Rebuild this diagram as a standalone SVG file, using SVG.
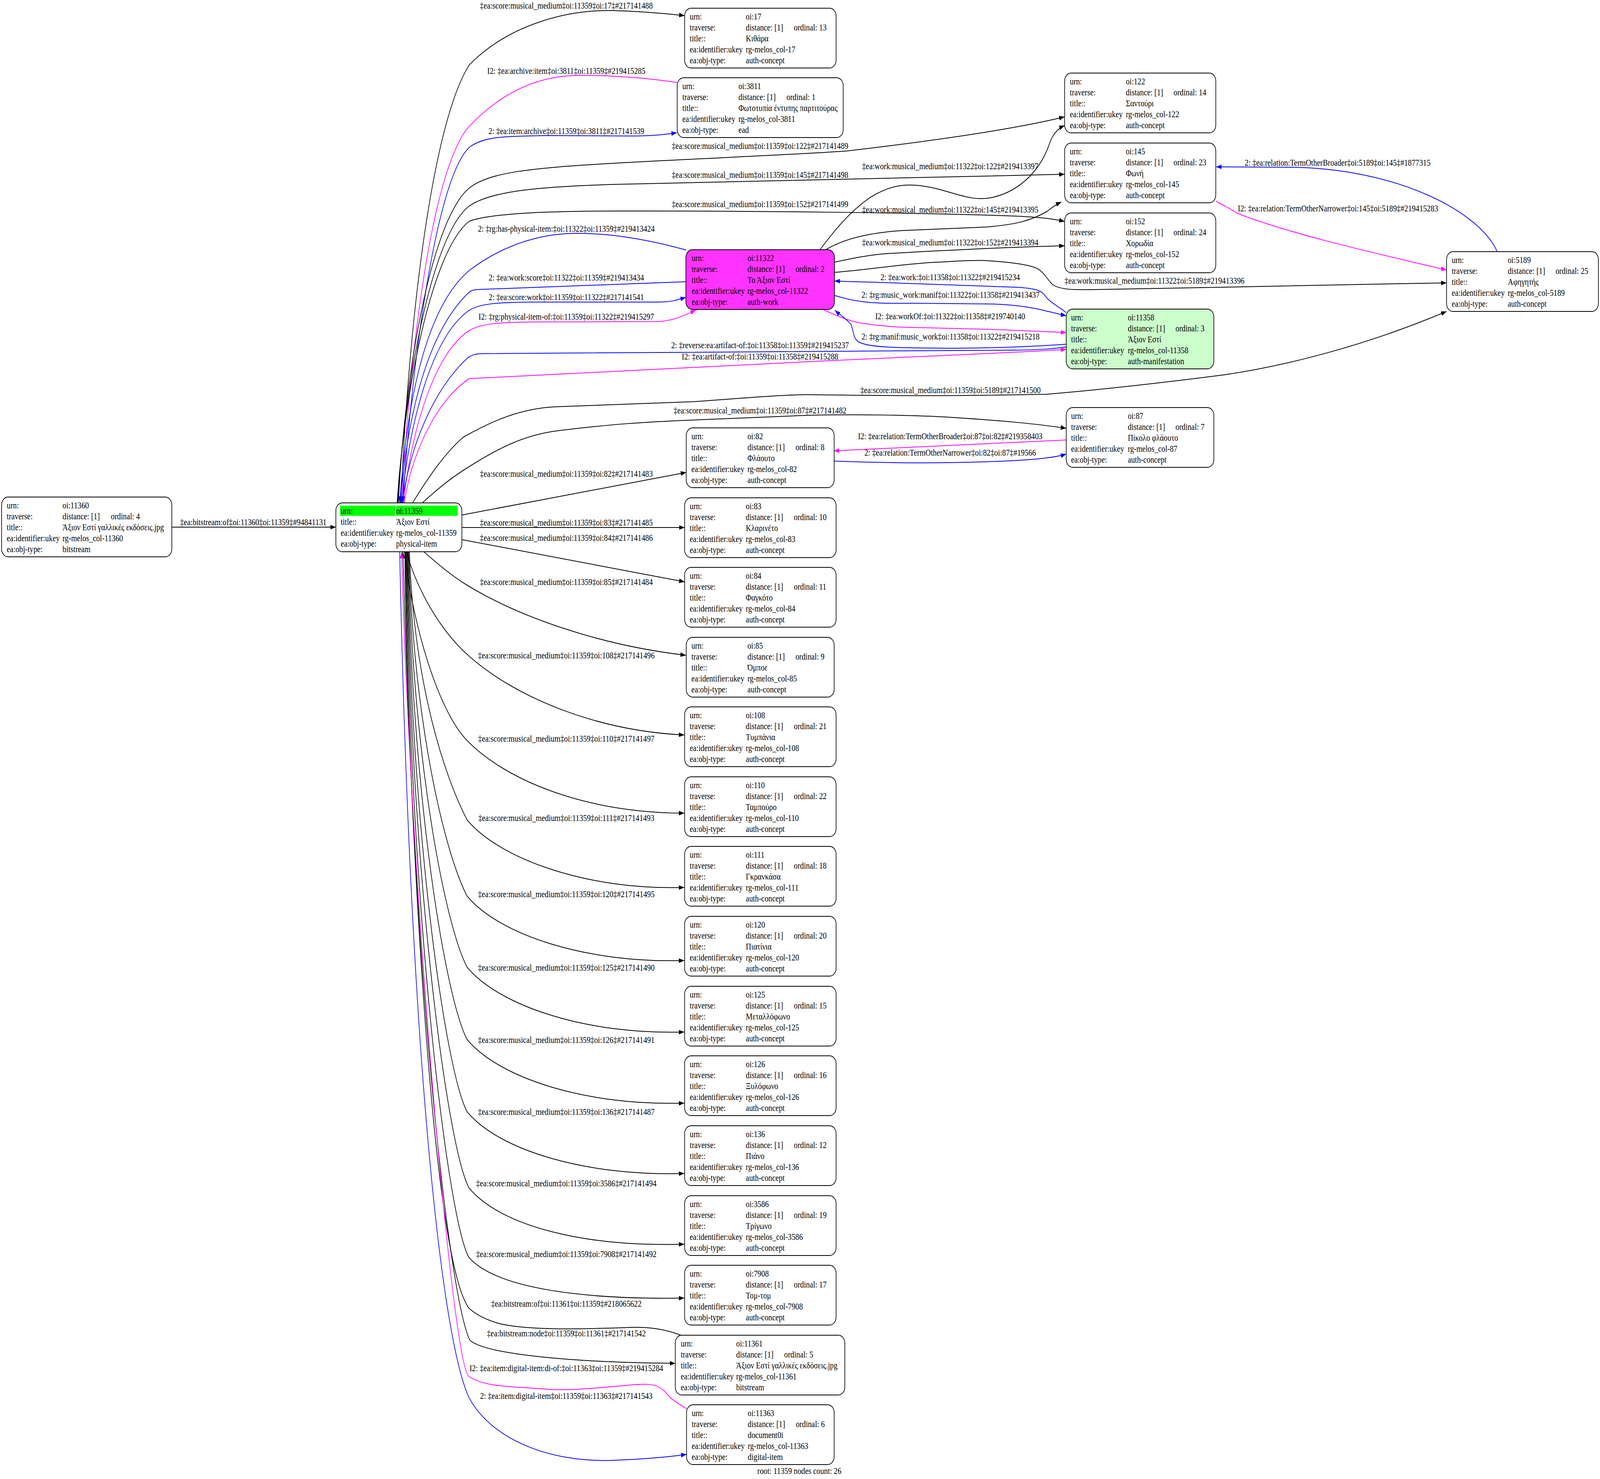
<svg xmlns="http://www.w3.org/2000/svg" width="4964" height="3785" viewBox="0 0 4964 3785" preserveAspectRatio="none" style="width:100%;height:100%">
<style>
text { font-family: "Liberation Serif", "Times New Roman", serif; font-size: 23.3px; fill: #000; }
.lbl { text-anchor: middle; }
.box { fill: #fff; stroke: #000; stroke-width: 2; }
.e { fill: none; stroke-width: 2; }
.k { stroke: #000; marker-end: url(#ak); }
.b { stroke: #0000ff; marker-end: url(#ab); }
.m { stroke: #ff00ff; marker-end: url(#am); }
</style>
<defs>
<marker id="ak" viewBox="0 0 10 7" refX="10" refY="3.5" markerWidth="17" markerHeight="12" markerUnits="userSpaceOnUse" orient="auto"><path d="M0,0 L10,3.5 L0,7 z" fill="#000"/></marker>
<marker id="ab" viewBox="0 0 10 7" refX="10" refY="3.5" markerWidth="17" markerHeight="12" markerUnits="userSpaceOnUse" orient="auto"><path d="M0,0 L10,3.5 L0,7 z" fill="#0000ff"/></marker>
<marker id="am" viewBox="0 0 10 7" refX="10" refY="3.5" markerWidth="17" markerHeight="12" markerUnits="userSpaceOnUse" orient="auto"><path d="M0,0 L10,3.5 L0,7 z" fill="#ff00ff"/></marker>
</defs>
<rect x="0" y="0" width="4964" height="3785" fill="#fff"/>

<g id="edges">
<path class="e k" d="M533,1349 L1042,1349"/>
<text class="lbl" x="786" y="1344">‡ea:bitstream:of‡oi:11360‡oi:11359‡#94841131</text>

<path class="e k" d="M1244,1287 C1262,900 1330,330 1456,166 C1580,62 1760,25 1900,27 C1990,29 2060,34 2124,40"/>
<text class="lbl" x="1757" y="22">‡ea:score:musical_medium‡oi:11359‡oi:17‡#217141488</text>

<path class="e m" d="M2101,211 C2000,199 1900,192 1790,193 C1650,195 1540,250 1456,323 C1340,430 1270,900 1247,1287"/>
<text class="lbl" x="1757" y="189">I2: ‡ea:archive:item‡oi:3811‡oi:11359‡#219415285</text>

<path class="e b" d="M1250,1287 C1275,950 1350,460 1456,377 C1500,350 1560,348 1700,347 L1950,348 C2030,348 2060,344 2100,340"/>
<text class="lbl" x="1757" y="343">2: ‡ea:item:archive‡oi:11359‡oi:3811‡#217141539</text>

<path class="e k" d="M1236,1287 C1255,950 1340,560 1456,481 C1520,440 1650,430 1900,418 C2100,408 2500,395 2631,386 C2900,360 3150,330 3303,299"/>
<text class="lbl" x="2358" y="381">‡ea:score:musical_medium‡oi:11359‡oi:122‡#217141489</text>

<path class="e k" d="M1234,1287 C1255,980 1340,600 1456,527 C1530,485 1700,478 1900,472 C2200,465 2400,461 2600,459 C2900,455 3100,450 3303,446"/>
<text class="lbl" x="2358" y="455">‡ea:score:musical_medium‡oi:11359‡oi:145‡#217141498</text>

<path class="e k" d="M1232,1287 C1255,1000 1340,640 1456,566 C1530,545 1700,541 1900,540 C2300,539 2900,545 3150,553 C3230,556 3270,560 3303,567"/>
<text class="lbl" x="2358" y="530">‡ea:score:musical_medium‡oi:11359‡oi:152‡#217141499</text>

<path class="e b" d="M2129,640 C2020,615 1900,597 1788,597 C1650,598 1540,640 1456,692 C1330,780 1265,1000 1240,1287"/>
<text class="lbl" x="1757" y="593">2: ‡rg:has-physical-item:‡oi:11322‡oi:11359‡#219413424</text>

<path class="e b" d="M2128,721 L1480,741 C1465,742 1458,745 1450,752 C1330,850 1265,1050 1242,1287"/>
<text class="lbl" x="1757" y="718">2: ‡ea:work:score‡oi:11322‡oi:11359‡#219413434</text>

<path class="e b" d="M1246,1287 C1270,1080 1340,860 1456,794 C1490,776 1550,774 1650,773 L2050,773 C2080,773 2100,768 2128,761"/>
<text class="lbl" x="1757" y="768">2: ‡ea:score:work‡oi:11359‡oi:11322‡#217141541</text>

<path class="e m" d="M1252,1287 C1275,1100 1350,900 1456,846 C1490,828 1550,825 1650,824 L2040,823 C2080,822 2120,810 2159,793"/>
<text class="lbl" x="1757" y="818">I2: ‡rg:physical-item-of:‡oi:11359‡oi:11322‡#219415297</text>

<path class="e b" d="M3308,888 C3270,892 3240,895 3150,896 L1500,905 C1475,905 1465,908 1452,915 C1340,1000 1270,1150 1248,1287"/>
<text class="lbl" x="2358" y="891">2: ‡reverse:ea:artifact-of:‡oi:11358‡oi:11359‡#219415237</text>

<path class="e m" d="M1254,1287 C1280,1150 1360,1020 1456,969 L2500,926 C2900,910 3150,903 3308,894"/>
<text class="lbl" x="2358" y="920">I2: ‡ea:artifact-of:‡oi:11359‡oi:11358‡#219415288</text>

<path class="e k" d="M1280,1287 C1330,1220 1380,1160 1437,1119 C1530,1075 1620,1045 1724,1041 C1900,1035 2050,1030 2150,1028 C2300,1020 2400,1011 2500,1010 C2700,1012 2900,1015 3246,1009 C3450,995 3650,975 3800,959 C4000,935 4250,880 4488,797"/>
<text class="lbl" x="2949" y="1006">‡ea:score:musical_medium‡oi:11359‡oi:5189‡#217141500</text>

<path class="e k" d="M1310,1287 C1360,1250 1400,1222 1456,1194 C1540,1150 1620,1115 1724,1103 C1900,1085 2000,1080 2150,1075 L2500,1063 C2650,1060 2832,1062 2950,1068 C3100,1076 3200,1083 3308,1096"/>
<text class="lbl" x="2358" y="1058">‡ea:score:musical_medium‡oi:11359‡oi:87‡#217141482</text>

<path class="e k" d="M1433,1318 L2129,1209"/>
<text class="lbl" x="1757" y="1220">‡ea:score:musical_medium‡oi:11359‡oi:82‡#217141483</text>

<path class="e k" d="M1433,1350 L2124,1350"/>
<text class="lbl" x="1757" y="1345">‡ea:score:musical_medium‡oi:11359‡oi:83‡#217141485</text>

<path class="e k" d="M1433,1381 L2124,1489"/>
<text class="lbl" x="1757" y="1384">‡ea:score:musical_medium‡oi:11359‡oi:84‡#217141486</text>

<path class="e k" d="M1315,1412 C1360,1445 1400,1472 1442,1494 C1600,1575 1850,1650 2128,1677"/>
<text class="lbl" x="1757" y="1497">‡ea:score:musical_medium‡oi:11359‡oi:85‡#217141484</text>

<path class="e k" d="M1261,1412 C1290,1500 1360,1610 1455,1679 C1600,1785 1850,1870 2123,1881"/>
<text class="lbl" x="1757" y="1685">‡ea:score:musical_medium‡oi:11359‡oi:108‡#217141496</text>

<path class="e k" d="M1255,1412 C1280,1600 1360,1820 1449,1895 C1560,1990 1800,2080 2123,2081"/>
<text class="lbl" x="1757" y="1898">‡ea:score:musical_medium‡oi:11359‡oi:110‡#217141497</text>

<path class="e k" d="M1270,1412 C1285,1755 1380,1988 1449,2098 C1549,2198 1823,2279 2123,2271"/>
<text class="lbl" x="1757" y="2101">‡ea:score:musical_medium‡oi:11359‡oi:111‡#217141493</text>

<path class="e k" d="M1268,1412 C1283,1852 1380,2183 1449,2293 C1549,2393 1823,2466 2123,2458"/>
<text class="lbl" x="1757" y="2296">‡ea:score:musical_medium‡oi:11359‡oi:120‡#217141495</text>

<path class="e k" d="M1266,1412 C1281,1943 1380,2365 1449,2475 C1549,2575 1823,2649 2123,2641"/>
<text class="lbl" x="1757" y="2484">‡ea:score:musical_medium‡oi:11359‡oi:125‡#217141490</text>

<path class="e k" d="M1264,1412 C1279,2036 1380,2550 1449,2660 C1549,2760 1823,2831 2123,2823"/>
<text class="lbl" x="1757" y="2669">‡ea:score:musical_medium‡oi:11359‡oi:126‡#217141491</text>

<path class="e k" d="M1262,1412 C1277,2128 1380,2735 1449,2845 C1549,2945 1823,3011 2123,3003"/>
<text class="lbl" x="1757" y="2853">‡ea:score:musical_medium‡oi:11359‡oi:136‡#217141487</text>

<path class="e k" d="M1260,1412 C1275,2226 1385,2930 1455,3040 C1555,3140 1823,3192 2123,3184"/>
<text class="lbl" x="1757" y="3036">‡ea:score:musical_medium‡oi:11359‡oi:3586‡#217141494</text>

<path class="e k" d="M1258,1412 C1273,2314 1385,3107 1454,3217 C1540,3300 1823,3326 2123,3322"/>
<text class="lbl" x="1757" y="3217">‡ea:score:musical_medium‡oi:11359‡oi:7908‡#217141492</text>

<path class="e k" d="M2112,3417 C2060,3400 2010,3396 1954,3397 C1800,3402 1620,3405 1540,3385 C1500,3375 1470,3360 1454,3347 C1330,3200 1270,2000 1250,1412"/>
<text class="lbl" x="1757" y="3344">‡ea:bitstream:of‡oi:11361‡oi:11359‡#218065622</text>

<path class="e k" d="M1256,1412 C1271,2402 1390,3320 1458,3430 C1510,3468 1800,3487 2095,3489"/>
<text class="lbl" x="1757" y="3420">‡ea:bitstream:node‡oi:11359‡oi:11361‡#217141542</text>

<path class="e m" d="M2130,3605 C2100,3590 2080,3580 2068,3566 C2040,3535 1990,3542 1936,3546 C1850,3552 1760,3560 1695,3555 C1590,3548 1500,3550 1454,3522 C1400,3480 1270,2200 1246,1412"/>
<text class="lbl" x="1757" y="3509">I2: ‡ea:item:digital-item:di-of:‡oi:11363‡oi:11359‡#219415284</text>

<path class="e b" d="M1240,1412 C1270,2600 1360,3400 1454,3575 C1520,3680 1700,3745 1909,3737 C2000,3734 2080,3728 2130,3722"/>
<text class="lbl" x="1757" y="3580">2: ‡ea:item:digital-item‡oi:11359‡oi:11363‡#217141543</text>

<path class="e k" d="M2544,639 C2580,600 2630,545 2700,505 C2760,475 2800,472 2840,474 C2940,480 3000,520 3080,505 C3170,488 3230,430 3255,370 C3265,345 3280,330 3303,321"/>
<text class="lbl" x="2948" y="433">‡ea:work:musical_medium‡oi:11322‡oi:122‡#219413397</text>

<path class="e k" d="M2562,639 C2620,610 2700,595 2800,590 L3059,581 C3150,575 3200,565 3250,540 C3265,530 3280,522 3293,517"/>
<text class="lbl" x="2948" y="544">‡ea:work:musical_medium‡oi:11322‡oi:145‡#219413395</text>

<path class="e k" d="M2589,671 C2650,660 2700,652 2753,649 C2900,642 3100,633 3303,629"/>
<text class="lbl" x="2948" y="628">‡ea:work:musical_medium‡oi:11322‡oi:152‡#219413394</text>

<path class="e k" d="M2589,697 C2700,690 2800,675 2906,671 C2980,668 3020,665 3059,667 C3120,670 3180,675 3212,685 C3235,692 3245,710 3265,728 C3290,742 3330,742 3400,741 L3797,735 C4000,731 4250,727 4488,724"/>
<text class="lbl" x="3582" y="726">‡ea:work:musical_medium‡oi:11322‡oi:5189‡#219413396</text>

<path class="e b" d="M3308,800 C3285,785 3260,775 3245,760 C3235,745 3220,738 3150,735 L2700,722 C2650,721 2620,720 2589,719"/>
<text class="lbl" x="2948" y="717">2: ‡ea:work:‡oi:11358‡oi:11322‡#219415234</text>

<path class="e b" d="M2589,756 C2680,780 2750,776 2832,776 L3080,778 C3160,780 3220,790 3246,796 C3270,800 3290,805 3308,808"/>
<text class="lbl" x="2949" y="762">2: ‡rg:music_work:manif‡oi:11322‡oi:11358‡#219413437</text>

<path class="e m" d="M2554,792 C2600,810 2630,820 2666,826 C2730,835 2780,837 2832,838 L3080,843 C3180,846 3250,849 3308,851"/>
<text class="lbl" x="2948" y="817">I2: ‡ea:workOf:‡oi:11322‡oi:11358‡#219740140</text>

<path class="e b" d="M3308,881 C3200,887 3050,892 2915,891 C2800,890 2700,890 2666,876 C2645,866 2650,850 2640,830 C2625,815 2605,805 2590,794"/>
<text class="lbl" x="2949" y="869">2: ‡rg:manif:music_work‡oi:11358‡oi:11322‡#219415218</text>

<path class="e m" d="M3308,1126 C3000,1136 2800,1145 2587,1154"/>
<text class="lbl" x="2948" y="1124">I2: ‡ea:relation:TermOtherBroader‡oi:87‡oi:82‡#219358403</text>

<path class="e b" d="M2587,1180 C2750,1185 2900,1186 3050,1182 C3200,1178 3270,1172 3308,1162"/>
<text class="lbl" x="2948" y="1166">2: ‡ea:relation:TermOtherNarrower‡oi:82‡oi:87‡#19566</text>

<path class="e b" d="M4645,644 C4590,540 4330,430 4000,428 C3900,427 3820,427 3773,427"/>
<text class="lbl" x="4150" y="424">2: ‡ea:relation:TermOtherBroader‡oi:5189‡oi:145‡#1877315</text>

<path class="e m" d="M3773,515 C3800,528 3820,535 3837,545 C4000,600 4330,660 4488,691"/>
<text class="lbl" x="4151" y="541">I2: ‡ea:relation:TermOtherNarrower‡oi:145‡oi:5189‡#219415283</text>
</g>

<g id="n11360" transform="translate(5,1272)"><rect class="box" width="528" height="153" rx="20"/>
<text x="16" y="29">urn:</text><text x="189" y="29">oi:11360</text>
<text x="16" y="57">traverse:</text><text x="189" y="57">distance: [1]</text><text x="339" y="57">ordinal: 4</text>
<text x="16" y="85">title::</text><text x="189" y="85">Άξιον Εστί γαλλικές εκδόσεις.jpg</text>
<text x="16" y="113">ea:identifier:ukey</text><text x="189" y="113">rg-melos_col-11360</text>
<text x="16" y="141">ea:obj-type:</text><text x="189" y="141">bitstream</text></g>

<g id="n11359" transform="translate(1042,1287)"><rect class="box" width="391" height="125" rx="20"/>
<rect x="13" y="7" width="172" height="26" fill="#00ff00"/><rect x="187" y="7" width="191" height="26" fill="#00ff00"/>
<text x="15" y="28">urn:</text><text x="187" y="28">oi:11359</text>
<text x="15" y="56">title::</text><text x="187" y="56">Άξιον Εστί</text>
<text x="15" y="84">ea:identifier:ukey</text><text x="187" y="84">rg-melos_col-11359</text>
<text x="15" y="112">ea:obj-type:</text><text x="187" y="112">physical-item</text></g>

<g id="n17" transform="translate(2124,21)"><rect class="box" width="470" height="153" rx="20"/>
<text x="16" y="29">urn:</text><text x="190" y="29">oi:17</text>
<text x="16" y="57">traverse:</text><text x="190" y="57">distance: [1]</text><text x="339" y="57">ordinal: 13</text>
<text x="16" y="85">title::</text><text x="190" y="85">Κιθάρα</text>
<text x="16" y="113">ea:identifier:ukey</text><text x="190" y="113">rg-melos_col-17</text>
<text x="16" y="141">ea:obj-type:</text><text x="190" y="141">auth-concept</text></g>

<g id="n3811" transform="translate(2101,199)"><rect class="box" width="515" height="153" rx="20"/>
<text x="16" y="29">urn:</text><text x="190" y="29">oi:3811</text>
<text x="16" y="57">traverse:</text><text x="190" y="57">distance: [1]</text><text x="339" y="57">ordinal: 1</text>
<text x="16" y="85">title::</text><text x="190" y="85">Φωτοτυπία έντυπης παρτιτούρας</text>
<text x="16" y="113">ea:identifier:ukey</text><text x="190" y="113">rg-melos_col-3811</text>
<text x="16" y="141">ea:obj-type:</text><text x="190" y="141">ead</text></g>

<g id="n11322" transform="translate(2128,639)"><rect class="box" width="461" height="153" rx="20" style="fill:#ff33ff"/>
<text x="18" y="29">urn:</text><text x="191" y="29">oi:11322</text>
<text x="18" y="57">traverse:</text><text x="191" y="57">distance: [1]</text><text x="340" y="57">ordinal: 2</text>
<text x="18" y="85">title::</text><text x="191" y="85">Το Άξιον Εστί</text>
<text x="18" y="113">ea:identifier:ukey</text><text x="191" y="113">rg-melos_col-11322</text>
<text x="18" y="141">ea:obj-type:</text><text x="191" y="141">auth-work</text></g>

<g id="n82" transform="translate(2129,1095)"><rect class="box" width="459" height="153" rx="20"/>
<text x="16" y="29">urn:</text><text x="190" y="29">oi:82</text>
<text x="16" y="57">traverse:</text><text x="190" y="57">distance: [1]</text><text x="339" y="57">ordinal: 8</text>
<text x="16" y="85">title::</text><text x="190" y="85">Φλάουτο</text>
<text x="16" y="113">ea:identifier:ukey</text><text x="190" y="113">rg-melos_col-82</text>
<text x="16" y="141">ea:obj-type:</text><text x="190" y="141">auth-concept</text></g>

<g id="n83" transform="translate(2124,1274)"><rect class="box" width="470" height="153" rx="20"/>
<text x="16" y="29">urn:</text><text x="190" y="29">oi:83</text>
<text x="16" y="57">traverse:</text><text x="190" y="57">distance: [1]</text><text x="339" y="57">ordinal: 10</text>
<text x="16" y="85">title::</text><text x="190" y="85">Κλαρινέτο</text>
<text x="16" y="113">ea:identifier:ukey</text><text x="190" y="113">rg-melos_col-83</text>
<text x="16" y="141">ea:obj-type:</text><text x="190" y="141">auth-concept</text></g>

<g id="n84" transform="translate(2124,1452)"><rect class="box" width="470" height="153" rx="20"/>
<text x="16" y="29">urn:</text><text x="190" y="29">oi:84</text>
<text x="16" y="57">traverse:</text><text x="190" y="57">distance: [1]</text><text x="339" y="57">ordinal: 11</text>
<text x="16" y="85">title::</text><text x="190" y="85">Φαγκότο</text>
<text x="16" y="113">ea:identifier:ukey</text><text x="190" y="113">rg-melos_col-84</text>
<text x="16" y="141">ea:obj-type:</text><text x="190" y="141">auth-concept</text></g>

<g id="n85" transform="translate(2129,1631)"><rect class="box" width="459" height="153" rx="20"/>
<text x="16" y="29">urn:</text><text x="190" y="29">oi:85</text>
<text x="16" y="57">traverse:</text><text x="190" y="57">distance: [1]</text><text x="339" y="57">ordinal: 9</text>
<text x="16" y="85">title::</text><text x="190" y="85">Όμποε</text>
<text x="16" y="113">ea:identifier:ukey</text><text x="190" y="113">rg-melos_col-85</text>
<text x="16" y="141">ea:obj-type:</text><text x="190" y="141">auth-concept</text></g>

<g id="n108" transform="translate(2124,1809)"><rect class="box" width="470" height="153" rx="20"/>
<text x="16" y="29">urn:</text><text x="190" y="29">oi:108</text>
<text x="16" y="57">traverse:</text><text x="190" y="57">distance: [1]</text><text x="339" y="57">ordinal: 21</text>
<text x="16" y="85">title::</text><text x="190" y="85">Τυμπάνια</text>
<text x="16" y="113">ea:identifier:ukey</text><text x="190" y="113">rg-melos_col-108</text>
<text x="16" y="141">ea:obj-type:</text><text x="190" y="141">auth-concept</text></g>

<g id="n110" transform="translate(2124,1988)"><rect class="box" width="470" height="153" rx="20"/>
<text x="16" y="29">urn:</text><text x="190" y="29">oi:110</text>
<text x="16" y="57">traverse:</text><text x="190" y="57">distance: [1]</text><text x="339" y="57">ordinal: 22</text>
<text x="16" y="85">title::</text><text x="190" y="85">Ταμπούρο</text>
<text x="16" y="113">ea:identifier:ukey</text><text x="190" y="113">rg-melos_col-110</text>
<text x="16" y="141">ea:obj-type:</text><text x="190" y="141">auth-concept</text></g>

<g id="n111" transform="translate(2124,2166)"><rect class="box" width="470" height="153" rx="20"/>
<text x="16" y="29">urn:</text><text x="190" y="29">oi:111</text>
<text x="16" y="57">traverse:</text><text x="190" y="57">distance: [1]</text><text x="339" y="57">ordinal: 18</text>
<text x="16" y="85">title::</text><text x="190" y="85">Γκρανκάσα</text>
<text x="16" y="113">ea:identifier:ukey</text><text x="190" y="113">rg-melos_col-111</text>
<text x="16" y="141">ea:obj-type:</text><text x="190" y="141">auth-concept</text></g>

<g id="n120" transform="translate(2124,2345)"><rect class="box" width="470" height="153" rx="20"/>
<text x="16" y="29">urn:</text><text x="190" y="29">oi:120</text>
<text x="16" y="57">traverse:</text><text x="190" y="57">distance: [1]</text><text x="339" y="57">ordinal: 20</text>
<text x="16" y="85">title::</text><text x="190" y="85">Πιατίνια</text>
<text x="16" y="113">ea:identifier:ukey</text><text x="190" y="113">rg-melos_col-120</text>
<text x="16" y="141">ea:obj-type:</text><text x="190" y="141">auth-concept</text></g>

<g id="n125" transform="translate(2124,2524)"><rect class="box" width="470" height="153" rx="20"/>
<text x="16" y="29">urn:</text><text x="190" y="29">oi:125</text>
<text x="16" y="57">traverse:</text><text x="190" y="57">distance: [1]</text><text x="339" y="57">ordinal: 15</text>
<text x="16" y="85">title::</text><text x="190" y="85">Μεταλλόφωνο</text>
<text x="16" y="113">ea:identifier:ukey</text><text x="190" y="113">rg-melos_col-125</text>
<text x="16" y="141">ea:obj-type:</text><text x="190" y="141">auth-concept</text></g>

<g id="n126" transform="translate(2124,2702)"><rect class="box" width="470" height="153" rx="20"/>
<text x="16" y="29">urn:</text><text x="190" y="29">oi:126</text>
<text x="16" y="57">traverse:</text><text x="190" y="57">distance: [1]</text><text x="339" y="57">ordinal: 16</text>
<text x="16" y="85">title::</text><text x="190" y="85">Ξυλόφωνο</text>
<text x="16" y="113">ea:identifier:ukey</text><text x="190" y="113">rg-melos_col-126</text>
<text x="16" y="141">ea:obj-type:</text><text x="190" y="141">auth-concept</text></g>

<g id="n136" transform="translate(2124,2881)"><rect class="box" width="470" height="153" rx="20"/>
<text x="16" y="29">urn:</text><text x="190" y="29">oi:136</text>
<text x="16" y="57">traverse:</text><text x="190" y="57">distance: [1]</text><text x="339" y="57">ordinal: 12</text>
<text x="16" y="85">title::</text><text x="190" y="85">Πιάνο</text>
<text x="16" y="113">ea:identifier:ukey</text><text x="190" y="113">rg-melos_col-136</text>
<text x="16" y="141">ea:obj-type:</text><text x="190" y="141">auth-concept</text></g>

<g id="n3586" transform="translate(2124,3060)"><rect class="box" width="470" height="153" rx="20"/>
<text x="16" y="29">urn:</text><text x="190" y="29">oi:3586</text>
<text x="16" y="57">traverse:</text><text x="190" y="57">distance: [1]</text><text x="339" y="57">ordinal: 19</text>
<text x="16" y="85">title::</text><text x="190" y="85">Τρίγωνο</text>
<text x="16" y="113">ea:identifier:ukey</text><text x="190" y="113">rg-melos_col-3586</text>
<text x="16" y="141">ea:obj-type:</text><text x="190" y="141">auth-concept</text></g>

<g id="n7908" transform="translate(2124,3238)"><rect class="box" width="470" height="153" rx="20"/>
<text x="16" y="29">urn:</text><text x="190" y="29">oi:7908</text>
<text x="16" y="57">traverse:</text><text x="190" y="57">distance: [1]</text><text x="339" y="57">ordinal: 17</text>
<text x="16" y="85">title::</text><text x="190" y="85">Τομ-τομ</text>
<text x="16" y="113">ea:identifier:ukey</text><text x="190" y="113">rg-melos_col-7908</text>
<text x="16" y="141">ea:obj-type:</text><text x="190" y="141">auth-concept</text></g>

<g id="n11361" transform="translate(2095,3417)"><rect class="box" width="526" height="153" rx="20"/>
<text x="17" y="29">urn:</text><text x="189" y="29">oi:11361</text>
<text x="17" y="57">traverse:</text><text x="189" y="57">distance: [1]</text><text x="338" y="57">ordinal: 5</text>
<text x="17" y="85">title::</text><text x="189" y="85">Άξιον Εστί γαλλικές εκδόσεις.jpg</text>
<text x="17" y="113">ea:identifier:ukey</text><text x="189" y="113">rg-melos_col-11361</text>
<text x="17" y="141">ea:obj-type:</text><text x="189" y="141">bitstream</text></g>

<g id="n11363" transform="translate(2130,3595)"><rect class="box" width="458" height="153" rx="20"/>
<text x="16" y="29">urn:</text><text x="190" y="29">oi:11363</text>
<text x="16" y="57">traverse:</text><text x="190" y="57">distance: [1]</text><text x="339" y="57">ordinal: 6</text>
<text x="16" y="85">title::</text><text x="190" y="85">document0i</text>
<text x="16" y="113">ea:identifier:ukey</text><text x="190" y="113">rg-melos_col-11363</text>
<text x="16" y="141">ea:obj-type:</text><text x="190" y="141">digital-item</text></g>

<g id="n122" transform="translate(3303,187)"><rect class="box" width="469" height="153" rx="20"/>
<text x="16" y="29">urn:</text><text x="190" y="29">oi:122</text>
<text x="16" y="57">traverse:</text><text x="190" y="57">distance: [1]</text><text x="338" y="57">ordinal: 14</text>
<text x="16" y="85">title::</text><text x="190" y="85">Σαντούρι</text>
<text x="16" y="113">ea:identifier:ukey</text><text x="190" y="113">rg-melos_col-122</text>
<text x="16" y="141">ea:obj-type:</text><text x="190" y="141">auth-concept</text></g>

<g id="n145" transform="translate(3303,366)"><rect class="box" width="469" height="153" rx="20"/>
<text x="16" y="29">urn:</text><text x="190" y="29">oi:145</text>
<text x="16" y="57">traverse:</text><text x="190" y="57">distance: [1]</text><text x="338" y="57">ordinal: 23</text>
<text x="16" y="85">title::</text><text x="190" y="85">Φωνή</text>
<text x="16" y="113">ea:identifier:ukey</text><text x="190" y="113">rg-melos_col-145</text>
<text x="16" y="141">ea:obj-type:</text><text x="190" y="141">auth-concept</text></g>

<g id="n152" transform="translate(3303,545)"><rect class="box" width="469" height="153" rx="20"/>
<text x="16" y="29">urn:</text><text x="190" y="29">oi:152</text>
<text x="16" y="57">traverse:</text><text x="190" y="57">distance: [1]</text><text x="338" y="57">ordinal: 24</text>
<text x="16" y="85">title::</text><text x="190" y="85">Χορωδία</text>
<text x="16" y="113">ea:identifier:ukey</text><text x="190" y="113">rg-melos_col-152</text>
<text x="16" y="141">ea:obj-type:</text><text x="190" y="141">auth-concept</text></g>

<g id="n11358" transform="translate(3308,791)"><rect class="box" width="458" height="153" rx="20" style="fill:#ccffcc"/>
<text x="15" y="29">urn:</text><text x="191" y="29">oi:11358</text>
<text x="15" y="57">traverse:</text><text x="191" y="57">distance: [1]</text><text x="339" y="57">ordinal: 3</text>
<text x="15" y="85">title::</text><text x="191" y="85">Άξιον Εστί</text>
<text x="15" y="113">ea:identifier:ukey</text><text x="191" y="113">rg-melos_col-11358</text>
<text x="15" y="141">ea:obj-type:</text><text x="191" y="141">auth-manifestation</text></g>

<g id="n87" transform="translate(3308,1043)"><rect class="box" width="458" height="153" rx="20"/>
<text x="15" y="29">urn:</text><text x="191" y="29">oi:87</text>
<text x="15" y="57">traverse:</text><text x="191" y="57">distance: [1]</text><text x="339" y="57">ordinal: 7</text>
<text x="15" y="85">title::</text><text x="191" y="85">Πίκολο φλάουτο</text>
<text x="15" y="113">ea:identifier:ukey</text><text x="191" y="113">rg-melos_col-87</text>
<text x="15" y="141">ea:obj-type:</text><text x="191" y="141">auth-concept</text></g>

<g id="n5189" transform="translate(4488,644)"><rect class="box" width="471" height="153" rx="20"/>
<text x="16" y="29">urn:</text><text x="190" y="29">oi:5189</text>
<text x="16" y="57">traverse:</text><text x="190" y="57">distance: [1]</text><text x="338" y="57">ordinal: 25</text>
<text x="16" y="85">title::</text><text x="190" y="85">Αφηγητής</text>
<text x="16" y="113">ea:identifier:ukey</text><text x="190" y="113">rg-melos_col-5189</text>
<text x="16" y="141">ea:obj-type:</text><text x="190" y="141">auth-concept</text></g>

<text id="footer" x="2480" y="3772" class="lbl">root: 11359 nodes count: 26</text>
</svg>
